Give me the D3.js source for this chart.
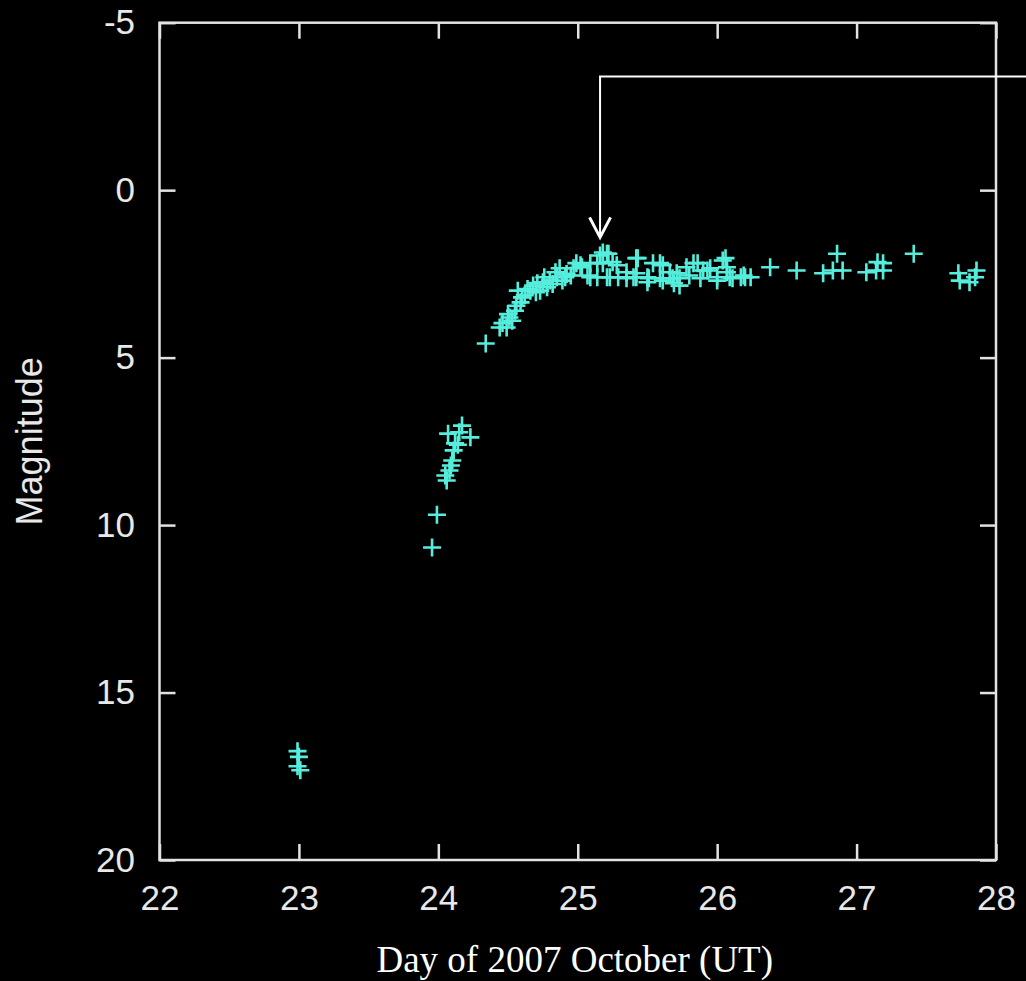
<!DOCTYPE html>
<html>
<head>
<meta charset="utf-8">
<style>
  body { margin: 0; background: #000; }
  svg { display: block; }
</style>
</head>
<body>
<script src="https://d3js.org/d3.v7.min.js"></script>
<script>
    // observations: [day of October 2007 (UT), magnitude]
    const quiescent = [
        [22.99, 16.75], [23.00, 16.92], [22.99, 17.20], [23.01, 17.32]
    ];
    const earlyRise = [
        [23.955, 10.67], [23.99, 9.69],
        [24.05, 8.52], [24.06, 8.67], [24.08, 8.37], [24.09, 8.22], [24.10, 8.07],
        [24.11, 7.77], [24.12, 7.56], [24.14, 7.60], [24.07, 7.27], [24.15, 7.23],
        [24.17, 7.03], [24.23, 7.38]
    ];
    const lateRise = [
        [24.34, 4.58], [24.44, 4.10], [24.46, 3.97], [24.49, 4.10], [24.51, 3.80],
        [24.53, 3.90], [24.55, 3.60], [24.59, 3.35], [24.57, 3.00], [24.62, 3.14],
        [24.66, 3.00], [24.71, 2.78], [24.73, 3.00], [24.75, 2.75], [24.78, 2.90],
        [24.80, 2.70], [24.85, 2.60], [24.87, 2.33], [24.91, 2.60], [24.92, 2.50],
        [24.50, 3.70], [24.56, 3.45], [24.60, 3.20], [24.64, 2.95], [24.68, 2.85],
        [24.70, 3.05], [24.76, 2.60], [24.82, 2.80], [24.84, 2.45], [24.89, 2.70]
    ];
    const peak = [
        [24.95, 2.55], [24.97, 2.33], [24.99, 2.18], [25.02, 2.24], [25.03, 2.30],
        [25.07, 2.55], [25.09, 2.18], [25.09, 2.60], [25.14, 2.18], [25.14, 2.60],
        [25.16, 1.95], [25.18, 1.86], [25.18, 2.18], [25.21, 1.90], [25.22, 1.90],
        [25.21, 2.60], [25.23, 2.60], [25.25, 2.15], [25.28, 2.24], [25.29, 2.60],
        [25.35, 2.45], [25.35, 2.63], [25.40, 2.60], [25.42, 2.03], [25.43, 2.03],
        [25.42, 2.48], [25.42, 2.60], [25.50, 2.60], [25.50, 2.75], [25.51, 2.63],
        [25.54, 2.18], [25.59, 2.18], [25.59, 2.63], [25.61, 2.24], [25.61, 2.70],
        [25.66, 2.45], [25.68, 2.63], [25.69, 2.78], [25.71, 2.48], [25.73, 2.63],
        [25.73, 2.85], [25.78, 2.30], [25.80, 2.55], [25.83, 2.18], [25.86, 2.18],
        [25.88, 2.63], [25.90, 2.40], [25.93, 2.40], [25.95, 2.33], [26.00, 2.60],
        [26.00, 2.70], [26.04, 2.10], [26.06, 2.03], [26.07, 2.30], [26.07, 2.45],
        [26.09, 2.60], [26.11, 2.63], [26.17, 2.60], [26.19, 2.55], [26.20, 2.60],
        [26.24, 2.60]
    ];
    const decline = [
        [26.38, 2.30], [26.57, 2.40], [26.76, 2.48], [26.83, 2.40], [26.86, 1.90],
        [26.90, 2.40], [27.07, 2.45], [27.14, 2.40], [27.15, 2.15], [27.19, 2.18],
        [27.19, 2.40], [27.41, 1.90], [27.73, 2.48], [27.74, 2.70], [27.81, 2.75],
        [27.85, 2.60], [27.86, 2.40]
    ];
    const observations = quiescent.concat(earlyRise, lateRise, peak, decline);

    const xTicks = [22, 23, 24, 25, 26, 27, 28];
    const yTicks = [-5, 0, 5, 10, 15, 20];
    const xTitle = "Day of 2007 October (UT)";
    const yTitle = "Magnitude";

    // annotation arrow, in data units
    const arrowTip = [25.16, 1.41];
    const arrowTopMag = -3.39;

    const width = 1026;
    const height = 981;
    const margin = {top: 22.7, right: 30, bottom: 121, left: 159.5};
    const frameColor = "#e2e2e2";
    const pointColor = "#55eedd";

    const xScale = d3.scaleLinear()
        .domain([22, 28])
        .range([margin.left, width - margin.right]);

    const yScale = d3.scaleLinear()
        .domain([-5, 20])
        .range([margin.top, height - margin.bottom]);

    const svg = d3.select("body")
        .append("svg")
        .attr("width", width)
        .attr("height", height)
        .style("background", "#000");

    const tickLen = 16;
    const plainNumber = d => String(d);

    // bottom and left axes with labels, ticks pointing inward
    const xAxis = d3.axisBottom(xScale)
        .tickValues(xTicks)
        .tickFormat(plainNumber)
        .tickSizeInner(-tickLen)
        .tickSizeOuter(0)
        .tickPadding(25);
    const yAxis = d3.axisLeft(yScale)
        .tickValues(yTicks)
        .tickFormat(plainNumber)
        .tickSizeInner(-tickLen)
        .tickSizeOuter(0)
        .tickPadding(24.5);

    const gx = svg.append("g")
        .attr("transform", "translate(0," + (height - margin.bottom) + ")")
        .call(xAxis);
    const gy = svg.append("g")
        .attr("transform", "translate(" + margin.left + ",0)")
        .call(yAxis);

    // mirrored ticks on top and right
    const gxTop = svg.append("g")
        .attr("transform", "translate(0," + margin.top + ")")
        .call(d3.axisTop(xScale).tickValues(xTicks).tickSizeInner(-tickLen).tickSizeOuter(0).tickFormat(""));
    const gyRight = svg.append("g")
        .attr("transform", "translate(" + (width - margin.right) + ",0)")
        .call(d3.axisRight(yScale).tickValues(yTicks).tickSizeInner(-tickLen).tickSizeOuter(0).tickFormat(""));

    [gx, gy, gxTop, gyRight].forEach(g => {
        g.select(".domain").remove();
        g.selectAll("line").attr("stroke", frameColor).attr("stroke-width", 2.5);
        g.selectAll("text")
            .attr("fill", "#e8e8e8")
            .style("font-family", "'Liberation Sans', Arial, Helvetica, sans-serif")
            .style("font-size", "35px");
    });

    // frame
    svg.append("rect")
        .attr("x", xScale(22))
        .attr("y", yScale(-5))
        .attr("width", xScale(28) - xScale(22))
        .attr("height", yScale(20) - yScale(-5))
        .attr("fill", "none")
        .attr("stroke", frameColor)
        .attr("stroke-width", 2.5);

    // data points as plus markers
    const half = 9;
    svg.append("g")
        .selectAll("path")
        .data(observations)
        .enter()
        .append("path")
        .attr("d", d => {
            const cx = xScale(d[0]), cy = yScale(d[1]);
            return "M" + (cx - half) + "," + cy + "H" + (cx + half) +
                "M" + cx + "," + (cy - half) + "V" + (cy + half);
        })
        .attr("stroke", pointColor)
        .attr("stroke-width", 2.6)
        .attr("fill", "none");

    // annotation arrow
    const ax = xScale(arrowTip[0]);
    const ay = yScale(arrowTip[1]);
    const atop = yScale(arrowTopMag);
    svg.append("path")
        .attr("d", "M" + width + "," + atop + "H" + ax + "V" + ay)
        .attr("stroke", "#fff")
        .attr("stroke-width", 2)
        .attr("fill", "none");
    svg.append("path")
        .attr("d", "M" + (ax - 10.5) + "," + (ay - 20) + "L" + ax + "," + ay + "L" + (ax + 10.5) + "," + (ay - 20))
        .attr("stroke", "#fff")
        .attr("stroke-width", 3)
        .attr("stroke-linejoin", "miter")
        .attr("fill", "none");

    // axis titles
    svg.append("text")
        .attr("x", (xScale(22) + xScale(28)) / 2 - 3)
        .attr("y", 972)
        .attr("text-anchor", "middle")
        .attr("fill", "#fff")
        .style("font-family", "'Liberation Serif', 'Times New Roman', serif")
        .style("font-size", "37px")
        .text(xTitle);

    svg.append("text")
        .attr("transform", "translate(42," + ((yScale(-5) + yScale(20)) / 2) + ") rotate(-90)")
        .attr("text-anchor", "middle")
        .attr("fill", "#e8e8e8")
        .style("font-family", "'Liberation Sans', Arial, Helvetica, sans-serif")
        .style("font-size", "36px")
        .text(yTitle);
</script>
</body>
</html>
